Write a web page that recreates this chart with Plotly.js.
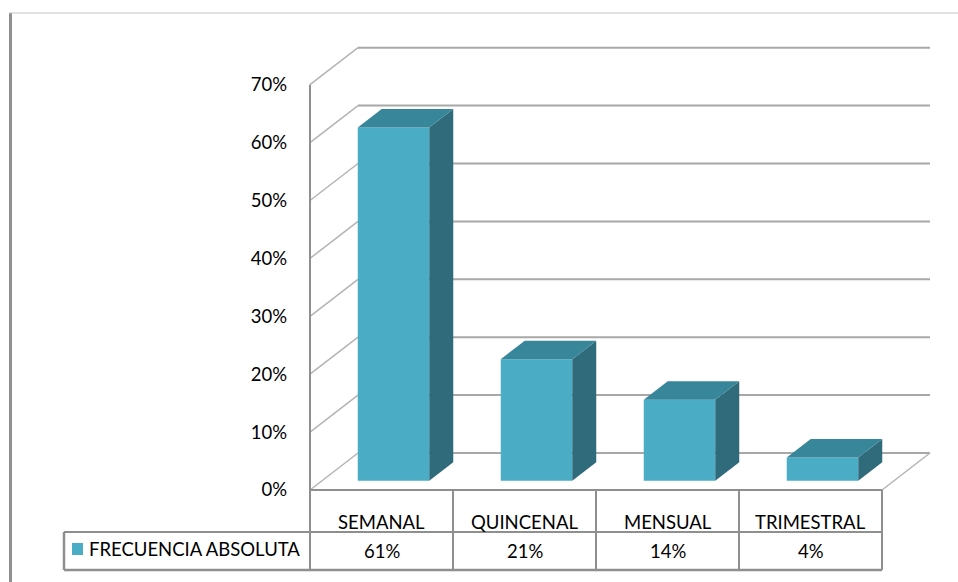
<!DOCTYPE html>
<html>
<head>
<meta charset="utf-8">
<script src="https://cdn.plot.ly/plotly-3.0.1.min.js"></script>
<style>
  html, body { margin: 0; padding: 0; background: #ffffff; }
  #chart { width: 958px; height: 582px; }
</style>
</head>
<body>
<div id="chart"></div>
<script>
// Frecuencia de compra: 3D-style column chart with a data table underneath
const categories = ['SEMANAL', 'QUINCENAL', 'MENSUAL', 'TRIMESTRAL'];
const values = [61, 21, 14, 4];
const seriesName = 'FRECUENCIA ABSOLUTA';
const tickValues = [0, 10, 20, 30, 40, 50, 60, 70];
const tickLabels = ['0%', '10%', '20%', '30%', '40%', '50%', '60%', '70%'];

// Page geometry (pixels) used to lay out the axes over the whole canvas
const W = 958, H = 582;
const ORIGIN_X = 310;       // pixel x of the front-left corner of the floor
const ORIGIN_Y = 490;       // pixel y of 0% on the front plane
const PX_PER_CAT = 143;     // pixel width of one category
const PX_PER_PCT = 5.79;    // pixels per percentage point

// Oblique depth of the box, in data units
const DEPTH_X = 48 / PX_PER_CAT;
const DEPTH_Y = 37 / PX_PER_PCT;
// Bars sit between these depth fractions, half a category wide
const BAR_D0 = 0.25, BAR_D1 = 0.75, BAR_W = 0.5;

const FRONT = '#4BACC6', TOP = '#378699', SIDE = '#306B7C';
const FONT = 'Lato, "Open Sans", sans-serif';
const FSIZE = 18.5;

const px2x = p => (p - ORIGIN_X) / PX_PER_CAT;
const px2y = p => (ORIGIN_Y - p) / PX_PER_PCT;
const nCat = categories.length;

function line(x0, y0, x1, y1, color, width) {
  return { type: 'line', xref: 'x', yref: 'y', x0, y0, x1, y1, layer: 'below',
           line: { color, width } };
}

const shapes = [];
// back wall gridlines and side wall diagonals
tickValues.forEach(v => {
  shapes.push(line(DEPTH_X, v + DEPTH_Y, nCat + DEPTH_X, v + DEPTH_Y, '#a8a8a8', 2));
  shapes.push(line(0, v, DEPTH_X, v + DEPTH_Y, '#b4b4b4', 1.5));
});
// floor right edge
shapes.push(line(nCat, 0, nCat + DEPTH_X, DEPTH_Y, '#b4b4b4', 1.5));
// front vertical axis
const yMaxTick = tickValues[tickValues.length - 1];
shapes.push(line(0, 0, 0, yMaxTick, '#8f8f8f', 2));

// data table grid
const rowMid = px2y(532), rowBot = px2y(570);
const legendLeft = px2x(64);
shapes.push(line(0, 0, nCat, 0, '#8f8f8f', 2));
shapes.push(line(legendLeft, rowMid, nCat, rowMid, '#8f8f8f', 2));
shapes.push(line(legendLeft, rowBot, nCat, rowBot, '#8f8f8f', 2.5));
shapes.push(line(legendLeft, rowMid, legendLeft, rowBot, '#8f8f8f', 2.5));
for (let i = 0; i <= nCat; i++) {
  shapes.push(line(i, 0, i, rowBot, '#8f8f8f', 2));
}
// legend key
shapes.push({ type: 'rect', xref: 'x', yref: 'y', layer: 'above',
  x0: px2x(72), x1: px2x(83), y0: px2y(543), y1: px2y(555),
  fillcolor: FRONT, line: { width: 0 } });

// outer chart frame (partially visible)
shapes.push({ type: 'line', xref: 'paper', yref: 'paper',
  x0: 10.5 / W, x1: 10.5 / W, y0: 1 - 13 / H, y1: 0, line: { color: '#8f8f8f', width: 3 } });
shapes.push({ type: 'line', xref: 'paper', yref: 'paper',
  x0: 9 / W, x1: 1, y0: 1 - 13 / H, y1: 1 - 13 / H, line: { color: '#c4c4c4', width: 1.2 } });

// bar geometry
const dx = (BAR_D1 - BAR_D0) * DEPTH_X, dy = (BAR_D1 - BAR_D0) * DEPTH_Y;
const base = BAR_D0 * DEPTH_Y;
const left = categories.map((_, i) => i + 0.5 - BAR_W / 2 + BAR_D0 * DEPTH_X);

const traces = [];
traces.push({
  type: 'bar',
  x: left.map(l => l + BAR_W / 2),
  y: values,
  base: values.map(() => base),
  width: BAR_W,
  marker: { color: FRONT, line: { width: 0 } },
  name: seriesName,
  hoverinfo: 'skip',
  showlegend: false
});

values.forEach((v, i) => {
  const xl = left[i], xr = left[i] + BAR_W, yt = base + v;
  traces.push({
    type: 'scatter', mode: 'lines', fill: 'toself', fillcolor: SIDE,
    line: { width: 0, color: SIDE }, hoverinfo: 'skip', showlegend: false,
    x: [xr, xr + dx, xr + dx, xr, xr],
    y: [base, base + dy, yt + dy, yt, base]
  });
  traces.push({
    type: 'scatter', mode: 'lines', fill: 'toself', fillcolor: TOP,
    line: { width: 0, color: TOP }, hoverinfo: 'skip', showlegend: false,
    x: [xl, xr, xr + dx, xl + dx, xl],
    y: [yt, yt, yt + dy, yt + dy, yt]
  });
});

// table text
const annotations = [];
categories.forEach((c, i) => {
  annotations.push({ x: i + 0.5, y: px2y(522), xref: 'x', yref: 'y', text: c,
    showarrow: false, font: { family: FONT, size: FSIZE, color: '#000' } });
  annotations.push({ x: i + 0.5, y: px2y(551), xref: 'x', yref: 'y', text: values[i] + '%',
    showarrow: false, font: { family: FONT, size: FSIZE, color: '#000' } });
});
annotations.push({ x: px2x(87), y: px2y(549), xref: 'x', yref: 'y', text: seriesName,
  xanchor: 'left', showarrow: false, font: { family: FONT, size: FSIZE, color: '#000' } });

const layout = {
  width: W, height: H,
  margin: { l: 0, r: 0, t: 0, b: 0 },
  paper_bgcolor: '#ffffff', plot_bgcolor: '#ffffff',
  showlegend: false,
  xaxis: { range: [px2x(0), px2x(W)], visible: false, fixedrange: true },
  yaxis: {
    range: [px2y(H), px2y(0)],
    anchor: 'free', position: ORIGIN_X / W,
    tickvals: tickValues, ticktext: tickLabels,
    showgrid: false, zeroline: false, showline: false, ticks: '',
    ticklabelstandoff: 23,
    tickfont: { family: FONT, size: FSIZE, color: '#000' },
    fixedrange: true
  },
  shapes, annotations,
  font: { family: FONT }
};

Plotly.newPlot('chart', traces, layout, { displayModeBar: false, staticPlot: true });
</script>
</body>
</html>
